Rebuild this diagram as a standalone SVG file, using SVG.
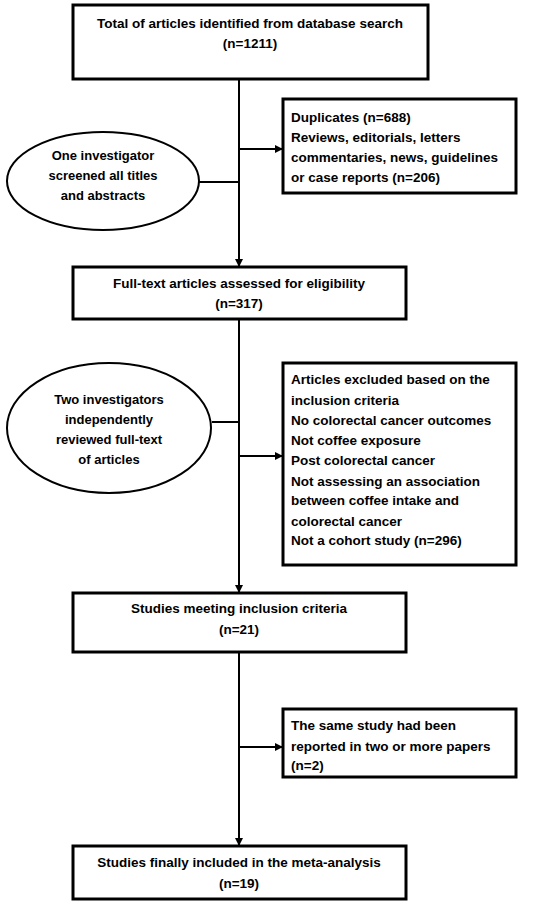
<svg xmlns="http://www.w3.org/2000/svg" width="550" height="905" viewBox="0 0 550 905">
<style>
.box{fill:#fff;stroke:#000;stroke-width:3}
.ell{fill:#fff;stroke:#000;stroke-width:2}
.ln{fill:none;stroke:#000;stroke-width:2}
text{font-family:"Liberation Sans",Arial,sans-serif;font-weight:bold;font-size:13.5px;fill:#000}
.c{text-anchor:middle}
.e{font-size:13px}
</style>
<defs>
<marker id="ah" markerWidth="8" markerHeight="8" refX="7" refY="4" orient="auto" markerUnits="userSpaceOnUse">
<path d="M0,0 L8,4 L0,8 z" fill="#000"/>
</marker>
</defs>
<rect width="550" height="905" fill="#fff"/>
<g id="connectors">
<line class="ln" x1="239" y1="79" x2="239" y2="266" marker-end="url(#ah)"/>
<line class="ln" x1="239" y1="149" x2="282" y2="149" marker-end="url(#ah)"/>
<line class="ln" x1="199" y1="182" x2="239" y2="182"/>
<line class="ln" x1="239" y1="319" x2="239" y2="592" marker-end="url(#ah)"/>
<line class="ln" x1="212" y1="422" x2="239" y2="422"/>
<line class="ln" x1="239" y1="456" x2="282" y2="456" marker-end="url(#ah)"/>
<line class="ln" x1="239" y1="652" x2="239" y2="845" marker-end="url(#ah)"/>
<line class="ln" x1="239" y1="747" x2="282" y2="747" marker-end="url(#ah)"/>
</g>
<g id="n1">
<rect class="box" x="73" y="5" width="355" height="74"/>
<text class="c" x="250" y="28">Total of articles identified from database search</text>
<text class="c" x="250" y="48">(n=1211)</text>
</g>
<g id="n2">
<rect class="box" x="283" y="99" width="233" height="94"/>
<text x="291" y="122">Duplicates (n=688)</text>
<text x="291" y="142">Reviews, editorials, letters</text>
<text x="291" y="162">commentaries, news, guidelines</text>
<text x="291" y="182">or case reports (n=206)</text>
</g>
<g id="e1">
<ellipse class="ell" cx="103" cy="181" rx="96" ry="49"/>
<text class="c e" x="103" y="160">One investigator</text>
<text class="c e" x="103" y="180">screened all titles</text>
<text class="c e" x="103" y="200">and abstracts</text>
</g>
<g id="n3">
<rect class="box" x="73" y="267" width="333" height="52"/>
<text class="c" x="239" y="288">Full-text articles assessed for eligibility</text>
<text class="c" x="239" y="308">(n=317)</text>
</g>
<g id="e2">
<ellipse class="ell" cx="109" cy="428" rx="102" ry="65"/>
<text class="c e" x="109" y="404">Two investigators</text>
<text class="c e" x="109" y="424">independently</text>
<text class="c e" x="109" y="444">reviewed full-text</text>
<text class="c e" x="109" y="464">of articles</text>
</g>
<g id="n4">
<rect class="box" x="283" y="363" width="233" height="202"/>
<text x="291" y="384">Articles excluded based on the</text>
<text x="291" y="405">inclusion criteria</text>
<text x="291" y="425">No colorectal cancer outcomes</text>
<text x="291" y="445">Not coffee exposure</text>
<text x="291" y="465">Post colorectal cancer</text>
<text x="291" y="486">Not assessing an association</text>
<text x="291" y="505">between coffee intake and</text>
<text x="291" y="526">colorectal cancer</text>
<text x="291" y="545">Not a cohort study (n=296)</text>
</g>
<g id="n5">
<rect class="box" x="73" y="593" width="333" height="59"/>
<text class="c" x="239" y="613">Studies meeting inclusion criteria</text>
<text class="c" x="239" y="634">(n=21)</text>
</g>
<g id="n6">
<rect class="box" x="283" y="709" width="233" height="68"/>
<text x="291" y="730">The same study had been</text>
<text x="291" y="751">reported in two or more papers</text>
<text x="291" y="770">(n=2)</text>
</g>
<g id="n7">
<rect class="box" x="73" y="846" width="333" height="53"/>
<text class="c" x="239" y="867">Studies finally included in the meta-analysis</text>
<text class="c" x="239" y="888">(n=19)</text>
</g>
</svg>
